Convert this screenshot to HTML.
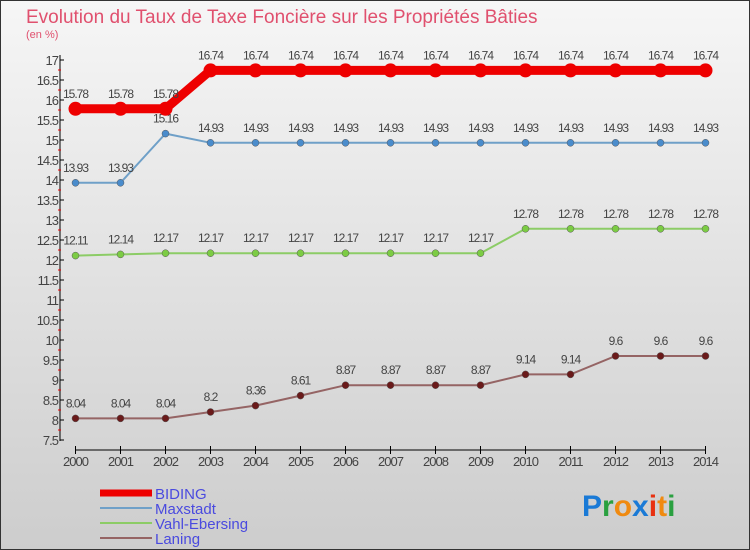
<!DOCTYPE html>
<html><head><meta charset="utf-8"><style>
body{margin:0}
svg{display:block;font-family:"Liberation Sans",sans-serif}
</style></head><body>
<svg id="c" width="750" height="550">
<defs><linearGradient id="bg" x1="0" y1="0" x2="0" y2="1"><stop offset="0" stop-color="#f6f6f6"/><stop offset="1" stop-color="#cdcdcd"/></linearGradient></defs>
<rect x="0.5" y="0.5" width="749" height="549" fill="url(#bg)" stroke="#333"/>
<text x="26" y="23" font-size="19" fill="#e0506e">Evolution du Taux de Taxe Foncière sur les Propriétés Bâties</text>
<text x="26" y="38" font-size="11" fill="#e0506e">(en %)</text>
<g id="axes"></g><g id="series"></g>
<g>
<line x1="100" y1="493" x2="152" y2="493" stroke="#e00" stroke-width="7"/>
<text x="155" y="499" font-size="15" fill="#4a4adf">BIDING</text>
<line x1="100" y1="508" x2="152" y2="508" stroke="#6fa0c8" stroke-width="2"/>
<text x="155" y="514" font-size="15" fill="#4a4adf">Maxstadt</text>
<line x1="100" y1="523" x2="152" y2="523" stroke="#8ccc66" stroke-width="2"/>
<text x="155" y="529" font-size="15" fill="#4a4adf">Vahl-Ebersing</text>
<line x1="100" y1="538" x2="152" y2="538" stroke="#956464" stroke-width="2"/>
<text x="155" y="544" font-size="15" fill="#4a4adf">Laning</text>
</g>
<g font-size="30" font-weight="bold">
<text x="582" y="516"><tspan fill="#1a7ad6">P</tspan><tspan fill="#2aa040">r</tspan><tspan fill="#f08a10">o</tspan><tspan fill="#1a7ad6">x</tspan><tspan fill="#e83010">i</tspan><tspan fill="#f08a10">t</tspan><tspan fill="#2aa040">i</tspan></text>
</g>
</svg>
<script>
const years=[2000,2001,2002,2003,2004,2005,2006,2007,2008,2009,2010,2011,2012,2013,2014];
const biding=[15.78,15.78,15.78,16.74,16.74,16.74,16.74,16.74,16.74,16.74,16.74,16.74,16.74,16.74,16.74];
const maxstadt=[13.93,13.93,15.16,14.93,14.93,14.93,14.93,14.93,14.93,14.93,14.93,14.93,14.93,14.93,14.93];
const vahl=[12.11,12.14,12.17,12.17,12.17,12.17,12.17,12.17,12.17,12.17,12.78,12.78,12.78,12.78,12.78];
const laning=[8.04,8.04,8.04,8.2,8.36,8.61,8.87,8.87,8.87,8.87,9.14,9.14,9.6,9.6,9.6];
const yTicks=[7.5,8,8.5,9,9.5,10,10.5,11,11.5,12,12.5,13,13.5,14,14.5,15,15.5,16,16.5,17];
const NS="http://www.w3.org/2000/svg";
const X=i=>75.5+i*45, Y=v=>60+(17-v)*40;
function mk(p,t,a){const e=document.createElementNS(NS,t);for(const k in a)e.setAttribute(k,a[k]);p.appendChild(e);return e;}
const ax=document.getElementById('axes');
const yl=mk(ax,'line',{x1:60,y1:55,x2:60,y2:441,stroke:'#000'});


yTicks.forEach(v=>{
 mk(ax,'line',{x1:60,y1:Y(v),x2:64,y2:Y(v),stroke:'#000'});
 if(v<17) mk(ax,'line',{x1:58,y1:Y(v)-10,x2:61,y2:Y(v)-10,stroke:'#e00'});
 const t=mk(ax,'text',{x:58,y:Y(v)+5,'text-anchor':'end','font-size':13,fill:'#444','letter-spacing':'-1'});
 t.textContent=String(v);
 
 
});
const xl=mk(ax,'line',{x1:X(0),y1:450,x2:X(14),y2:450,stroke:'#000'});


years.forEach((y,i)=>{
 mk(ax,'line',{x1:X(i),y1:446,x2:X(i),y2:454,stroke:'#000'});
 const t=mk(ax,'text',{x:X(i),y:466,'text-anchor':'middle','font-size':13,fill:'#444','letter-spacing':'-1'});
 t.textContent=y;
 
 
});
const sg=document.getElementById('series');
function series(name,vals,color,w,r,dot){
 const g=mk(sg,'g',{});
 
 
 mk(g,'polyline',{points:vals.map((v,i)=>X(i)+','+Y(v)).join(' '),fill:'none',stroke:color,'stroke-width':w});
 vals.forEach((v,i)=>{
  const c=mk(g,'circle',{cx:X(i),cy:Y(v),r:r,fill:dot,stroke:w>3?'none':'#555','stroke-width':0.5});
  
  
  const t=mk(g,'text',{x:X(i),y:Y(v)-11,'text-anchor':'middle','font-size':12,fill:'#444','letter-spacing':'-1'});
  t.textContent=String(v);
  
  
 });
}
series('laning',laning,'#956464',2,3.5,'#6a1a1a');
series('vahl-ebersing',vahl,'#8ccc66',2,3.5,'#7ccc44');
series('maxstadt',maxstadt,'#6fa0c8',2,3.5,'#4a8ccc');
series('biding',biding,'#e00',9,7,'#e00');
</script>
</body></html>
